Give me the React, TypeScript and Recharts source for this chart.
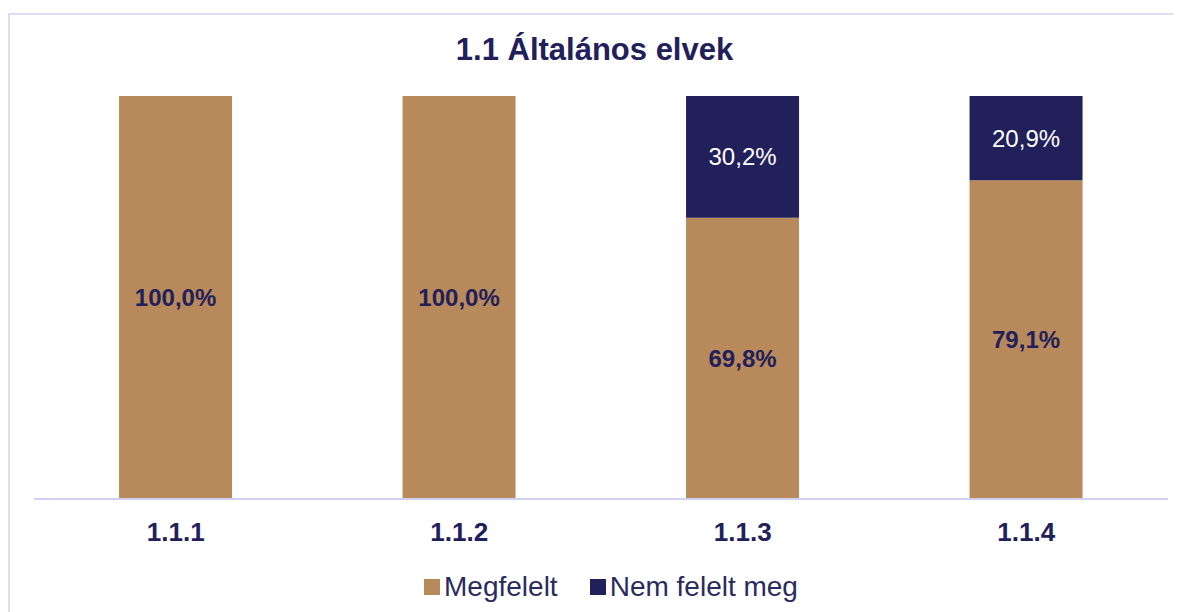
import { BarChart, Bar, XAxis, YAxis, Legend, LabelList } from "recharts";

const categories = ["1.1.1", "1.1.2", "1.1.3", "1.1.4"];
const megfelelt = [100, 100, 69.8, 79.1];
const nemFeleltMeg = [0, 0, 30.2, 20.9];

const TAN = "#B8895A";
const NAVY = "#22205B";
const FONT = "'Liberation Sans', Arial, sans-serif";

const data = categories.map((name, i) => ({
	name,
	megfelelt: megfelelt[i],
	nem: nemFeleltMeg[i],
}));

const fmt = (v: unknown) => {
	const n = Number(v);
	if (!n) return "";
	return `${n.toFixed(1).replace(".", ",")}%`;
};

const renderLegend = () => {
	const items = [
		{ label: "Megfelelt", color: TAN },
		{ label: "Nem felelt meg", color: NAVY },
	];
	return (
		<div
			style={{
				display: "flex",
				justifyContent: "center",
				gap: "32px",
				fontFamily: FONT,
				fontSize: "28px",
				color: "#2B2A5E",
				paddingLeft: "20px",
				lineHeight: "30px",
			}}
		>
			{items.map((it) => (
				<div key={it.label} style={{ display: "flex", alignItems: "center" }}>
					<div
						style={{
							width: "16px",
							height: "16px",
							backgroundColor: it.color,
							marginRight: "4px",
						}}
					/>
					<span>{it.label}</span>
				</div>
			))}
		</div>
	);
};

export default function App() {
	return (
		<div style={{ position: "relative", width: 1173, height: 604 }}>
			<div
				style={{
					position: "absolute",
					top: 5,
					left: 0,
					width: 1173,
					height: 620,
					borderTop: "2px solid #DCDCF4",
					borderLeft: "2px solid #DCDCF4",
					boxSizing: "border-box",
				}}
			/>
			<div
				style={{
					position: "absolute",
					top: 24,
					left: 0,
					width: 1173,
					textAlign: "center",
					fontFamily: FONT,
					fontWeight: "bold",
					fontSize: "31px",
					color: NAVY,
				}}
			>
				1.1 Általános elvek
			</div>
			<BarChart
				width={1173}
				height={604}
				data={data}
				margin={{ top: 88, right: 13, left: 26, bottom: 10 }}
				barCategoryGap="30%"
				style={{ position: "absolute", top: 0, left: 0 }}
			>
				<XAxis
					dataKey="name"
					axisLine={{ stroke: "#D0D0F0", strokeWidth: 2 }}
					tickLine={false}
					tickSize={0}
					tickMargin={20}
					height={73}
					tick={{
						fill: NAVY,
						fontSize: 26,
						fontWeight: "bold",
						fontFamily: FONT,
						dy: 4,
					}}
				/>
				<YAxis hide domain={[0, 100]} />
				<Legend verticalAlign="bottom" content={renderLegend} />
				<Bar
					dataKey="megfelelt"
					name="Megfelelt"
					stackId="a"
					fill={TAN}
					isAnimationActive={false}
				>
					<LabelList
						dataKey="megfelelt"
						position="center"
						formatter={fmt}
						style={{
							fill: NAVY,
							fontSize: 24,
							fontWeight: "bold",
							fontFamily: FONT,
						}}
					/>
				</Bar>
				<Bar
					dataKey="nem"
					name="Nem felelt meg"
					stackId="a"
					fill={NAVY}
					isAnimationActive={false}
				>
					<LabelList
						dataKey="nem"
						position="center"
						formatter={fmt}
						style={{ fill: "#FFFFFF", fontSize: 24, fontFamily: FONT }}
					/>
				</Bar>
			</BarChart>
		</div>
	);
}
